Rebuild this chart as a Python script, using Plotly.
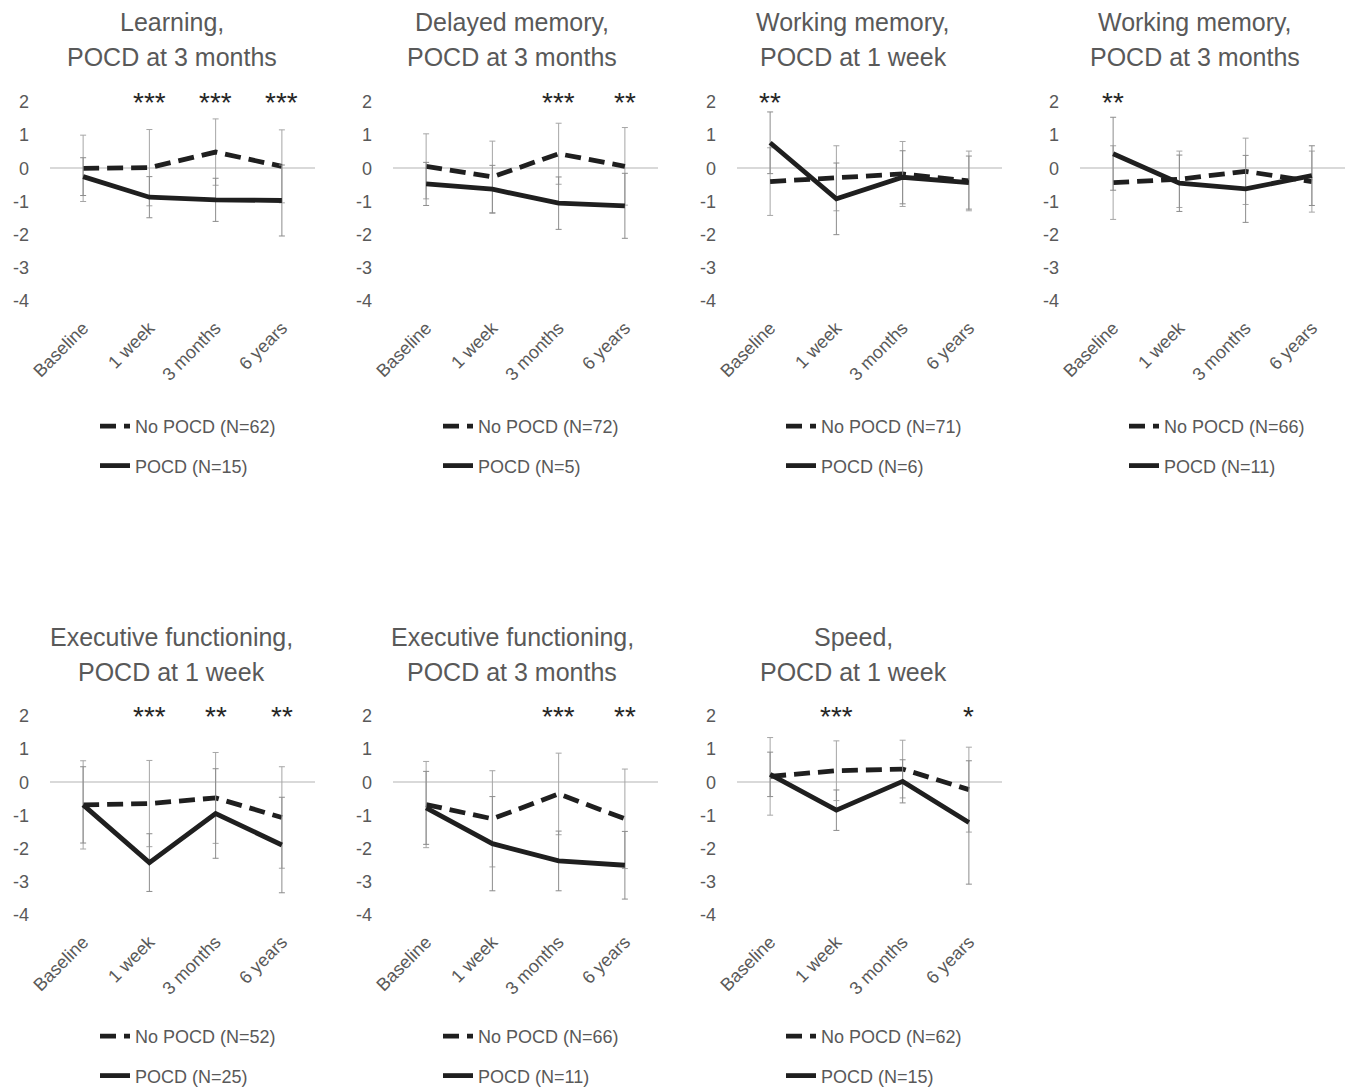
import plotly.graph_objects as go

timepoints = ["Baseline", "1 week", "3 months", "6 years"]
y_ticks = [2, 1, 0, -1, -2, -3, -4]

titles = [
    ["Learning,", "POCD at 3 months"],
    ["Delayed memory,", "POCD at 3 months"],
    ["Working memory,", "POCD at 1 week"],
    ["Working memory,", "POCD at 3 months"],
    ["Executive functioning,", "POCD at 1 week"],
    ["Executive functioning,", "POCD at 3 months"],
    ["Speed,", "POCD at 1 week"],
]

no_pocd_n = [62, 72, 71, 66, 52, 66, 62]
pocd_n = [15, 5, 6, 11, 25, 11, 15]

no_pocd_mean = [
    [0.00, 0.02, 0.49, 0.06],
    [0.06, -0.26, 0.44, 0.06],
    [-0.40, -0.30, -0.17, -0.38],
    [-0.43, -0.33, -0.09, -0.40],
    [-0.68, -0.64, -0.47, -1.06],
    [-0.67, -1.10, -0.35, -1.10],
    [0.18, 0.35, 0.40, -0.22],
]
no_pocd_sd = [
    [1.00, 1.15, 1.00, 1.10],
    [0.98, 1.08, 0.92, 1.17],
    [1.02, 0.98, 0.98, 0.90],
    [1.11, 0.85, 1.00, 0.92],
    [1.33, 1.30, 1.37, 1.53],
    [1.30, 1.45, 1.23, 1.50],
    [1.17, 0.90, 0.87, 1.28],
]
pocd_mean = [
    [-0.25, -0.87, -0.95, -0.97],
    [-0.47, -0.63, -1.05, -1.13],
    [0.77, -0.92, -0.27, -0.43],
    [0.44, -0.45, -0.62, -0.22],
    [-0.68, -2.42, -0.94, -1.89],
    [-0.77, -1.85, -2.37, -2.50],
    [0.24, -0.84, 0.03, -1.21],
]
pocd_sd = [
    [0.57, 0.62, 0.65, 1.07],
    [0.65, 0.72, 0.79, 0.98],
    [0.93, 1.08, 0.80, 0.80],
    [1.10, 0.85, 1.01, 0.90],
    [1.15, 0.87, 1.35, 1.44],
    [1.10, 1.42, 0.90, 1.02],
    [0.67, 0.61, 0.65, 1.86],
]
stars = [
    ["", "***", "***", "***"],
    ["", "", "***", "**"],
    ["**", "", "", ""],
    ["**", "", "", ""],
    ["", "***", "**", "**"],
    ["", "", "***", "**"],
    ["", "***", "", "*"],
]

# ---- layout geometry (pixels) ----
W, H = 1347, 1090
col_px = [(50, 315), (393, 658), (737, 1002), (1080, 1345)]
row_px = [(102, 301), (716, 915)]
title_cx = [172, 512, 853, 1195]
title_y = [(22, 57), (637, 672)]
legend_text_x = [137, 480, 823, 1166]
legend_top = [408, 1018]
positions = [(0, 0), (0, 1), (0, 2), (0, 3), (1, 0), (1, 1), (1, 2)]

FONT = "Liberation Sans, Arial, sans-serif"
TXT = "#595959"
LINE = "#1f1f1f"
ERR = "#8c8c8c"

fig = go.Figure()
layout = dict(
    template="none",
    width=W, height=H, margin=dict(l=0, r=0, t=0, b=0, autoexpand=False),
    paper_bgcolor="white", plot_bgcolor="white",
    font=dict(family=FONT, color=TXT, size=18),
    showlegend=True,
)
annotations = []

for i, (r, c) in enumerate(positions):
    k = i + 1
    xs = "x" if k == 1 else f"x{k}"
    ys = "y" if k == 1 else f"y{k}"
    lg = "legend" if k == 1 else f"legend{k}"
    x0, x1 = col_px[c]
    yt, yb = row_px[r]

    fig.add_trace(go.Scatter(
        x=timepoints, y=no_pocd_mean[i], xaxis=xs, yaxis=ys,
        mode="lines", name=f"No POCD (N={no_pocd_n[i]})",
        line=dict(color=LINE, width=4.8, dash="16px,8px"),
        error_y=dict(type="data", array=no_pocd_sd[i], visible=True,
                     color="#a6a6a6", thickness=1, width=3),
        legend=lg, legendgroup=f"a{k}",
    ))
    fig.add_trace(go.Scatter(
        x=timepoints, y=pocd_mean[i], xaxis=xs, yaxis=ys,
        mode="lines", name=f"POCD (N={pocd_n[i]})",
        line=dict(color=LINE, width=4.8),
        error_y=dict(type="data", array=pocd_sd[i], visible=True,
                     color=ERR, thickness=1, width=3),
        legend=lg, legendgroup=f"b{k}",
    ))

    xkey = "xaxis" if k == 1 else f"xaxis{k}"
    ykey = "yaxis" if k == 1 else f"yaxis{k}"
    layout[xkey] = dict(
        domain=[x0 / W, x1 / W], anchor=ys, type="category",
        categoryorder="array", categoryarray=timepoints,
        range=[-0.5, 3.5], showgrid=False, showline=False, zeroline=False,
        ticks="", tickangle=-45, tickfont=dict(size=18, color=TXT),
        ticklabelstandoff=12, fixedrange=True, automargin=False,
    )
    layout[ykey] = dict(
        domain=[1 - yb / H, 1 - yt / H], anchor=xs, range=[-4, 2],
        tickvals=y_ticks, ticktext=[str(v) for v in y_ticks],
        showgrid=False, showline=False,
        zeroline=True, zerolinecolor="#d9d9d9", zerolinewidth=1.5,
        ticks="", tickfont=dict(size=18, color=TXT),
        ticklabelstandoff=20, fixedrange=True, automargin=False,
    )
    layout[lg] = dict(
        x=(legend_text_x[c] - 42) / W, xanchor="left",
        y=1 - legend_top[r] / H, yanchor="top",
        orientation="v", bgcolor="rgba(0,0,0,0)",
        font=dict(size=18, color=TXT), tracegroupgap=13,
        itemwidth=30,
    )

    for line_txt, ty in zip(titles[i], title_y[r]):
        annotations.append(dict(
            text=line_txt, xref="paper", yref="paper",
            x=title_cx[c] / W, y=1 - ty / H, xanchor="center", yanchor="middle",
            showarrow=False, font=dict(size=25, color=TXT, family=FONT),
        ))
    for j, s in enumerate(stars[i]):
        if s:
            annotations.append(dict(
                text=s, xref=xs, yref=ys,
                x=j, y=2, yshift=0,
                xanchor="center", yanchor="middle", showarrow=False,
                font=dict(size=28, color="#262626", family=FONT),
            ))

layout["annotations"] = annotations
fig.update_layout(**layout)
fig.write_html(
    "out.html",
    config={"displayModeBar": False},
    post_script="document.body.style.margin='0';document.body.style.overflow='hidden';",
)
